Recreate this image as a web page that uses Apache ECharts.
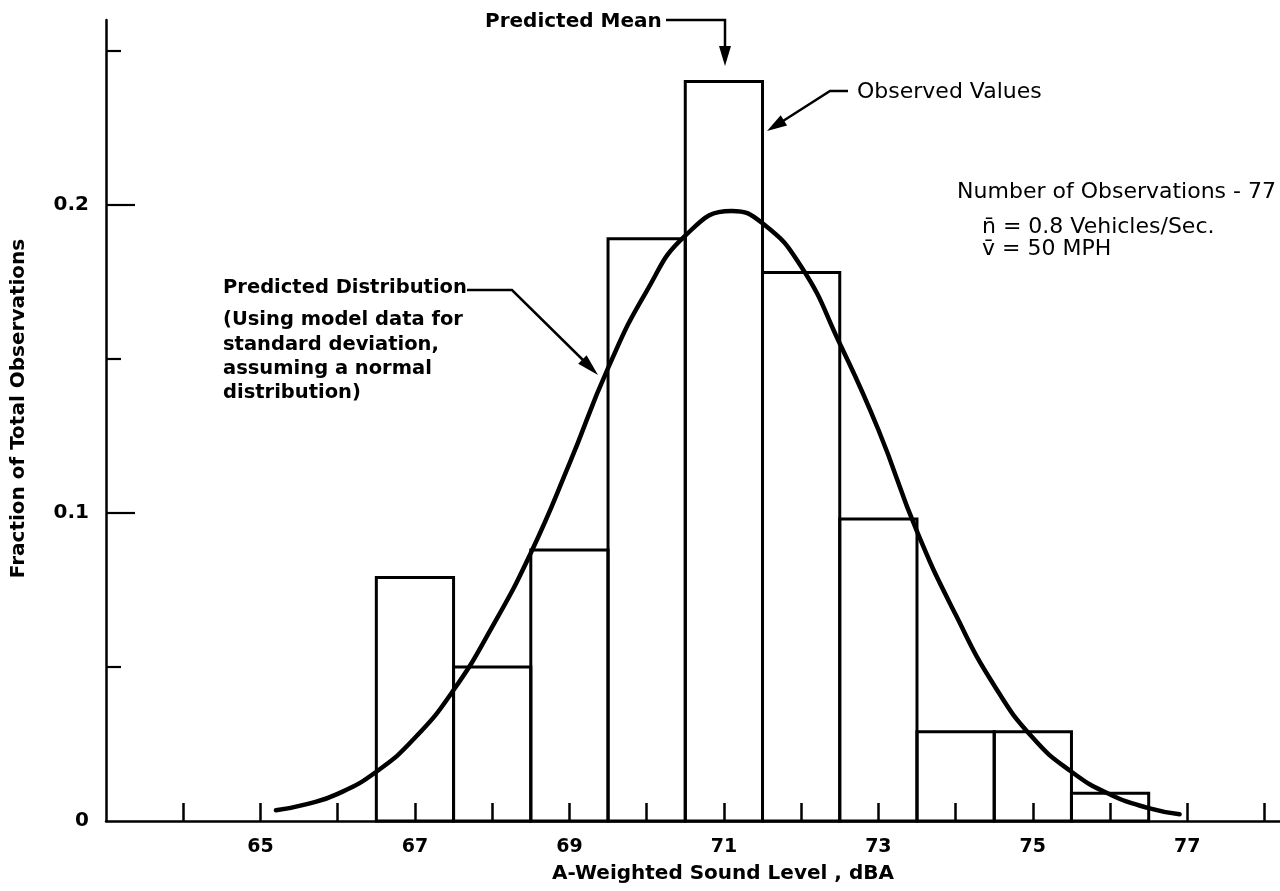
<!DOCTYPE html>
<html>
<head>
<meta charset="utf-8">
<script src="https://cdn.jsdelivr.net/npm/echarts@6/dist/echarts.min.js"></script>
<style>
html,body{margin:0;padding:0;background:#fff;}
#chart{width:1280px;height:891px;}
</style>
</head>
<body>
<div id="chart"></div>
<script>
// ---- data ----
const binStart = [66.5, 67.5, 68.5, 69.5, 70.5, 71.5, 72.5, 73.5, 74.5, 75.5];
const binEnd   = [67.5, 68.5, 69.5, 70.5, 71.5, 72.5, 73.5, 74.5, 75.5, 76.5];
const observedFraction = [0.079, 0.050, 0.088, 0.189, 0.240, 0.178, 0.098, 0.029, 0.029, 0.009];

// predicted distribution curve
const curveX = [65.2, 65.6, 66.0, 66.5, 67.0, 67.5, 68.0, 68.5, 69.0, 69.5, 70.0, 70.5, 71.1, 71.5, 72.0, 72.5, 73.0, 73.5, 74.0, 74.5, 75.0, 75.5, 76.0, 76.5, 76.9];
const curveY = [0.0035, 0.0055, 0.0088, 0.016, 0.027, 0.0425, 0.063, 0.087, 0.116, 0.147, 0.172, 0.190, 0.198, 0.194, 0.180, 0.155, 0.127, 0.094, 0.067, 0.044, 0.027, 0.016, 0.0086, 0.0042, 0.0022];

const xTickValues  = [64, 65, 66, 67, 68, 69, 70, 71, 72, 73, 74, 75, 76, 77, 78];
const xLabelValues = [65, 67, 69, 71, 73, 75, 77];
const yLongTicks   = [0.1, 0.2];
const yShortTicks  = [0.05, 0.15, 0.25];
const yLabelValues = [0, 0.1, 0.2];

const FONT = '"DejaVu Sans", sans-serif';

const chart = echarts.init(document.getElementById('chart'));

const histData = binStart.map((s, i) => [s, binEnd[i], observedFraction[i]]);
const curveData = curveX.map((x, i) => [x, curveY[i]]);

function txt(x, y, text, size, weight, align) {
  return {
    type: 'text', x: x, y: y, z: 10,
    style: {
      text: text, font: weight + ' ' + size + 'px ' + FONT, fill: '#000',
      align: align || 'left', verticalAlign: 'middle',
      textAlign: align || 'left', textVerticalAlign: 'middle'
    }
  };
}
function pline(points, w) {
  return { type: 'polyline', z: 10, shape: { points: points }, style: { stroke: '#000', lineWidth: w || 2.5, fill: null } };
}
function poly(points) {
  return { type: 'polygon', z: 10, shape: { points: points }, style: { fill: '#000' } };
}

const option = {
  backgroundColor: '#fff',
  animation: false,
  grid: { left: 106, right: 0, top: 20, bottom: 70, containLabel: false, outerBoundsMode: 'none' },
  xAxis: {
    type: 'value', min: 63, max: 78.2,
    name: 'A-Weighted Sound Level , dBA',
    nameLocation: 'middle', nameGap: 43,
    nameTextStyle: { fontFamily: FONT, fontSize: 20, fontWeight: 'bold', color: '#000', padding: [0, 0, 0, 60] },
    axisLine: { show: true, onZero: false, lineStyle: { color: '#000', width: 2.5 } },
    axisTick: { show: true, inside: true, length: 18, customValues: xTickValues, lineStyle: { color: '#000', width: 2.5 } },
    axisLabel: { customValues: xLabelValues, margin: 17, fontFamily: FONT, fontSize: 19, fontWeight: 'bold', color: '#000' },
    splitLine: { show: false }
  },
  yAxis: [
    {
      type: 'value', min: 0, max: 0.26, position: 'left',
      name: 'Fraction of Total Observations',
      nameLocation: 'middle', nameGap: 77,
      nameTextStyle: { fontFamily: FONT, fontSize: 20, fontWeight: 'bold', color: '#000', padding: [0, 0, 0, 24] },
      axisLine: { show: true, onZero: false, lineStyle: { color: '#000', width: 2.5 } },
      axisTick: { show: true, inside: true, length: 29, customValues: yLongTicks, lineStyle: { color: '#000', width: 2.2 } },
      axisLabel: {
        customValues: yLabelValues, margin: 17,
        formatter: v => (v === 0 ? '0' : v.toFixed(1)),
        fontFamily: FONT, fontSize: 20, fontWeight: 'bold', color: '#000'
      },
      splitLine: { show: false }
    },
    {
      type: 'value', min: 0, max: 0.26, position: 'left', offset: 0,
      axisLine: { show: false },
      axisTick: { show: true, inside: true, length: 15, customValues: yShortTicks, lineStyle: { color: '#000', width: 2.2 } },
      axisLabel: { show: false },
      splitLine: { show: false }
    }
  ],
  series: [
    {
      type: 'custom', name: 'Observed Values',
      data: histData,
      encode: { x: [0, 1], y: 2 },
      renderItem: function (params, api) {
        const p0 = api.coord([api.value(0), api.value(2)]);
        const p1 = api.coord([api.value(1), 0]);
        return {
          type: 'rect',
          shape: { x: p0[0], y: p0[1], width: p1[0] - p0[0], height: p1[1] - p0[1] },
          style: { fill: 'none', stroke: '#000', lineWidth: 3 }
        };
      },
      z: 2
    },
    {
      type: 'line', name: 'Predicted Distribution',
      data: curveData, smooth: 0.5, showSymbol: false, symbol: 'none',
      lineStyle: { color: '#000', width: 4.5, cap: 'round' },
      z: 3
    }
  ],
  graphic: [
    // Predicted Mean
    txt(485, 22, 'Predicted Mean', 20, 'bold'),
    pline([[666, 20], [725, 20], [725, 48]]),
    poly([[725, 66], [719, 46], [731, 46]]),
    // Observed Values
    txt(857, 92, 'Observed Values', 22, 'normal'),
    pline([[848, 91], [830, 91], [783, 121]]),
    poly([[767, 131], [787.1, 125.4], [780.7, 115.2]]),
    // info block
    txt(1276, 192, 'Number of Observations - 77', 22, 'normal', 'right'),
    txt(982, 227, 'n\u0304 = 0.8 Vehicles/Sec.', 22, 'normal'),
    txt(982, 249, 'v\u0304 = 50 MPH', 22, 'normal'),
    // Predicted Distribution
    txt(223, 288, 'Predicted Distribution', 19.5, 'bold'),
    txt(223, 320, '(Using model data for', 19.5, 'bold'),
    txt(223, 345, 'standard deviation,', 19.5, 'bold'),
    txt(223, 369, 'assuming a normal', 19.5, 'bold'),
    txt(223, 393, 'distribution)', 19.5, 'bold'),
    pline([[467, 290], [512, 290], [584, 361]]),
    poly([[598, 375], [578.2, 363.8], [586.6, 355.2]])
  ]
};
chart.setOption(option);
</script>
</body>
</html>
